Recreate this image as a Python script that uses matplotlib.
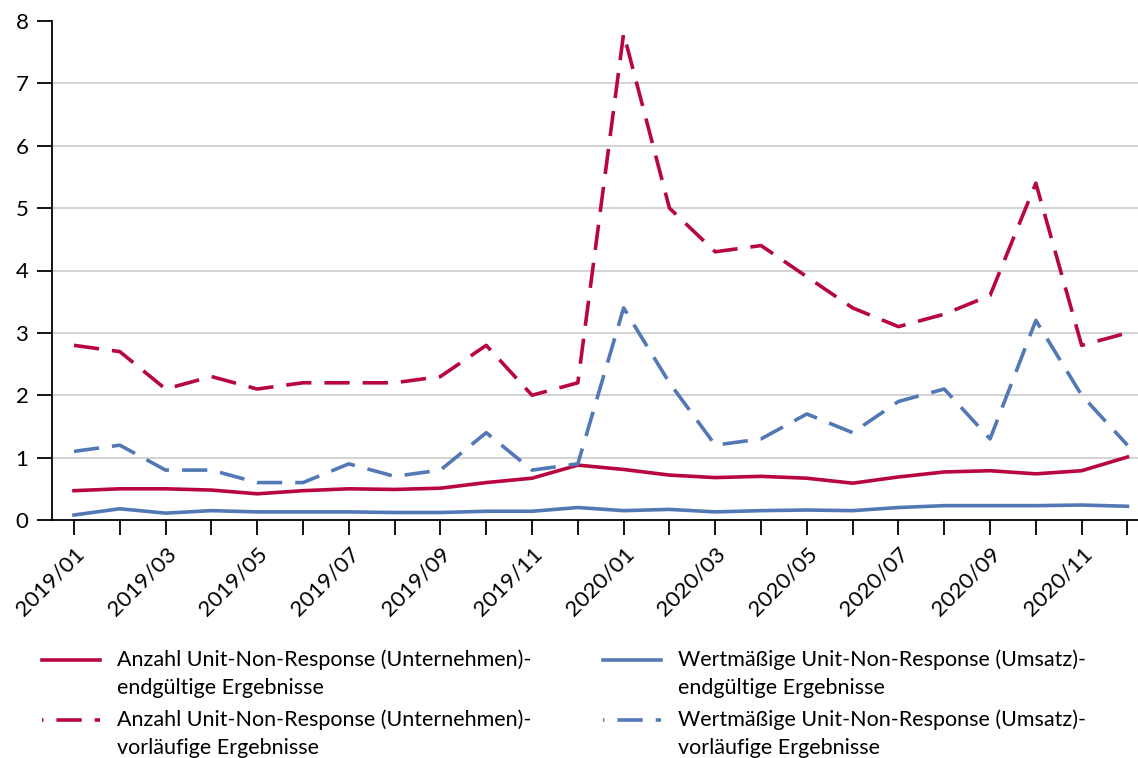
import matplotlib
matplotlib.use("Agg")
import matplotlib.pyplot as plt
from matplotlib.lines import Line2D

plt.rcParams['font.family'] = ['Lato', 'DejaVu Sans']

# Monate
monate = ["2019/01", "2019/02", "2019/03", "2019/04", "2019/05", "2019/06",
          "2019/07", "2019/08", "2019/09", "2019/10", "2019/11", "2019/12",
          "2020/01", "2020/02", "2020/03", "2020/04", "2020/05", "2020/06",
          "2020/07", "2020/08", "2020/09", "2020/10", "2020/11", "2020/12"]

# Anzahl Unit-Non-Response (Unternehmen)
anzahl_endg = [0.47, 0.50, 0.50, 0.48, 0.42, 0.47, 0.50, 0.49, 0.51, 0.60, 0.67, 0.88,
               0.81, 0.72, 0.68, 0.70, 0.67, 0.59, 0.69, 0.77, 0.79, 0.74, 0.79, 1.01]
anzahl_vorl = [2.8, 2.7, 2.1, 2.3, 2.1, 2.2, 2.2, 2.2, 2.3, 2.8, 2.0, 2.2,
               7.8, 5.0, 4.3, 4.4, 3.9, 3.4, 3.1, 3.3, 3.6, 5.4, 2.8, 3.0]

# Wertmäßige Unit-Non-Response (Umsatz)
wert_endg = [0.08, 0.18, 0.11, 0.15, 0.13, 0.13, 0.13, 0.12, 0.12, 0.14, 0.14, 0.20,
             0.15, 0.17, 0.13, 0.15, 0.16, 0.15, 0.20, 0.23, 0.23, 0.23, 0.24, 0.22]
wert_vorl = [1.1, 1.2, 0.8, 0.8, 0.6, 0.6, 0.9, 0.7, 0.8, 1.4, 0.8, 0.9,
             3.4, 2.2, 1.2, 1.3, 1.7, 1.4, 1.9, 2.1, 1.3, 3.2, 2.0, 1.2]

labels = ["Anzahl Unit-Non-Response (Unternehmen)-\nendgültige Ergebnisse",
          "Anzahl Unit-Non-Response (Unternehmen)-\nvorläufige Ergebnisse",
          "Wertmäßige Unit-Non-Response (Umsatz)-\nendgültige Ergebnisse",
          "Wertmäßige Unit-Non-Response (Umsatz)-\nvorläufige Ergebnisse"]

rot = '#b8063f'
blau = '#5279b5'

W, H = 1138, 758
fig = plt.figure(figsize=(W / 100, H / 100), dpi=100)
ax = fig.add_axes([52 / W, 1 - 520 / H, 1 - 52 / W, (520 - 21) / H])

x = list(range(len(monate)))
lw = 2.6
dash = (0, (7, 3.6))
ax.plot(x, anzahl_endg, color=rot, lw=lw)
ax.plot(x, anzahl_vorl, color=rot, lw=lw, linestyle=dash)
ax.plot(x, wert_endg, color=blau, lw=lw)
ax.plot(x, wert_vorl, color=blau, lw=lw, linestyle=dash)

ax.set_xlim(-0.48, 23.23)
ax.set_ylim(0, 8)
ax.set_yticks(range(0, 9))
for yv in range(1, 8):
    ax.axhline(yv, color='#d0d0d0', lw=1.3, zorder=0)

ax.set_xticks(x)
ax.set_xticklabels([m if i % 2 == 0 else "" for i, m in enumerate(monate)],
                   rotation=45, ha='right', rotation_mode='anchor')
ax.tick_params(axis='x', length=11, width=1.3, labelsize=16, pad=6)
ax.tick_params(axis='y', length=11, width=1.3, labelsize=16, pad=6)

for s in ['top', 'right']:
    ax.spines[s].set_visible(False)
ax.spines['left'].set_linewidth(1.3)
ax.spines['bottom'].set_linewidth(1.3)

# Legende (manuell, zwei Spalten)
styles = [(rot, '-'), (rot, (6.6, (7, 3.6))), (blau, '-'), (blau, (6.6, (7, 3.6)))]
spalten_x = [42, 42, 603, 603]
zeilen_y = [660, 720, 660, 720]
for (farbe, ls), lab, lx, ly in zip(styles, labels, spalten_x, zeilen_y):
    fig.add_artist(Line2D([lx / W, (lx + 58) / W], [1 - ly / H, 1 - ly / H],
                          color=farbe, lw=lw, linestyle=ls,
                          transform=fig.transFigure))
    for k, zeile in enumerate(lab.split("\n")):
        fig.text((lx + 75) / W, 1 - (ly + 6 + 28 * k) / H, zeile,
                 fontsize=15.5, va='baseline', ha='left')

fig.savefig("out.png", dpi=100)
